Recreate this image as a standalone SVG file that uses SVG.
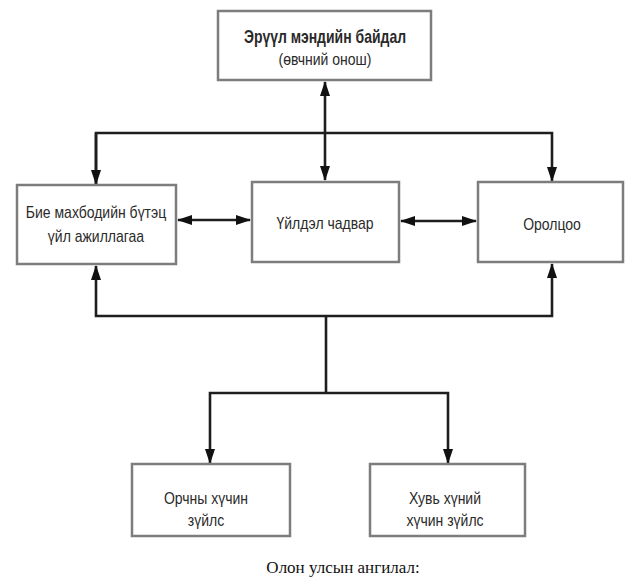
<svg xmlns="http://www.w3.org/2000/svg" width="625" height="580" viewBox="0 0 625 580">
  <style>
    .box { fill: #ffffff; stroke: #7d7d7d; stroke-width: 2.5; }
    .lbl { font-family: "Liberation Sans", Arial, sans-serif; font-size: 14px; fill: #2a2a2a; text-anchor: middle; }
    .bold { font-weight: bold; }
    .wire { fill: none; stroke: #1e1e1e; stroke-width: 2.6; stroke-linejoin: miter; }
    .caption { font-family: "Liberation Serif", "Times New Roman", serif; font-size: 17px; fill: #111; text-anchor: middle; }
  </style>
  <defs>
    <marker id="head" viewBox="0 0 15 10" refX="14" refY="5" markerWidth="15" markerHeight="10" markerUnits="userSpaceOnUse" orient="auto-start-reverse">
      <path d="M0,0 L15,5 L0,10 z" fill="#111"/>
    </marker>
  </defs>

  <rect width="625" height="580" fill="#ffffff"/>

  <!-- connectors -->
  <g id="connectors">
    <!-- health state <-> functioning -->
    <path class="wire" d="M325,82 L325,180" marker-start="url(#head)" marker-end="url(#head)"/>
    <!-- top distribution bar -->
    <path class="wire" d="M96,184 L96,133 L552,133 L552,181" marker-end="url(#head)"/>
    <path class="wire" d="M96,133 L96,184" marker-end="url(#head)"/>
    <!-- side links -->
    <path class="wire" d="M178,220 L250,220" marker-start="url(#head)" marker-end="url(#head)"/>
    <path class="wire" d="M401,221 L476,221" marker-start="url(#head)" marker-end="url(#head)"/>
    <!-- bottom collection bar -->
    <path class="wire" d="M96,266 L96,316 L552,316 L552,264" marker-start="url(#head)" marker-end="url(#head)"/>
    <path class="wire" d="M326,316 L326,393"/>
    <!-- contextual factors branch -->
    <path class="wire" d="M210,463 L210,393 L448,393 L448,463" marker-start="url(#head)" marker-end="url(#head)"/>
  </g>

  <!-- nodes (labels are drawn slightly tall and narrow) -->
  <g id="health-condition">
    <rect class="box" x="218" y="11" width="213" height="69"/>
    <text class="lbl bold" transform="translate(325,43) scale(1,1.25)">Эрүүл мэндийн байдал</text>
    <text class="lbl" transform="translate(325,65) scale(1,1.2)">(өвчний онош)</text>
  </g>

  <g id="body-functions">
    <rect class="box" x="17" y="185" width="159" height="79"/>
    <text class="lbl" transform="translate(96,218) scale(1,1.2)">Бие махбодийн бүтэц</text>
    <text class="lbl" transform="translate(96,242) scale(1,1.2)">үйл ажиллагаа</text>
  </g>

  <g id="activity">
    <rect class="box" x="252" y="182" width="147" height="80"/>
    <text class="lbl" transform="translate(325,229) scale(1,1.2)">Үйлдэл чадвар</text>
  </g>

  <g id="participation">
    <rect class="box" x="478" y="182" width="145" height="80"/>
    <text class="lbl" transform="translate(552,230) scale(1,1.2)">Оролцоо</text>
  </g>

  <g id="environmental-factors">
    <rect class="box" x="132" y="464" width="158" height="72"/>
    <text class="lbl" transform="translate(206,504) scale(1,1.2)">Орчны хүчин</text>
    <text class="lbl" transform="translate(206,526) scale(1,1.2)">зүйлс</text>
  </g>

  <g id="personal-factors">
    <rect class="box" x="370" y="464" width="155" height="72"/>
    <text class="lbl" transform="translate(445,504) scale(1,1.2)">Хувь хүний</text>
    <text class="lbl" transform="translate(445,526) scale(1,1.2)">хүчин зүйлс</text>
  </g>

  <text class="caption" x="343" y="573">Олон улсын ангилал:</text>
</svg>
